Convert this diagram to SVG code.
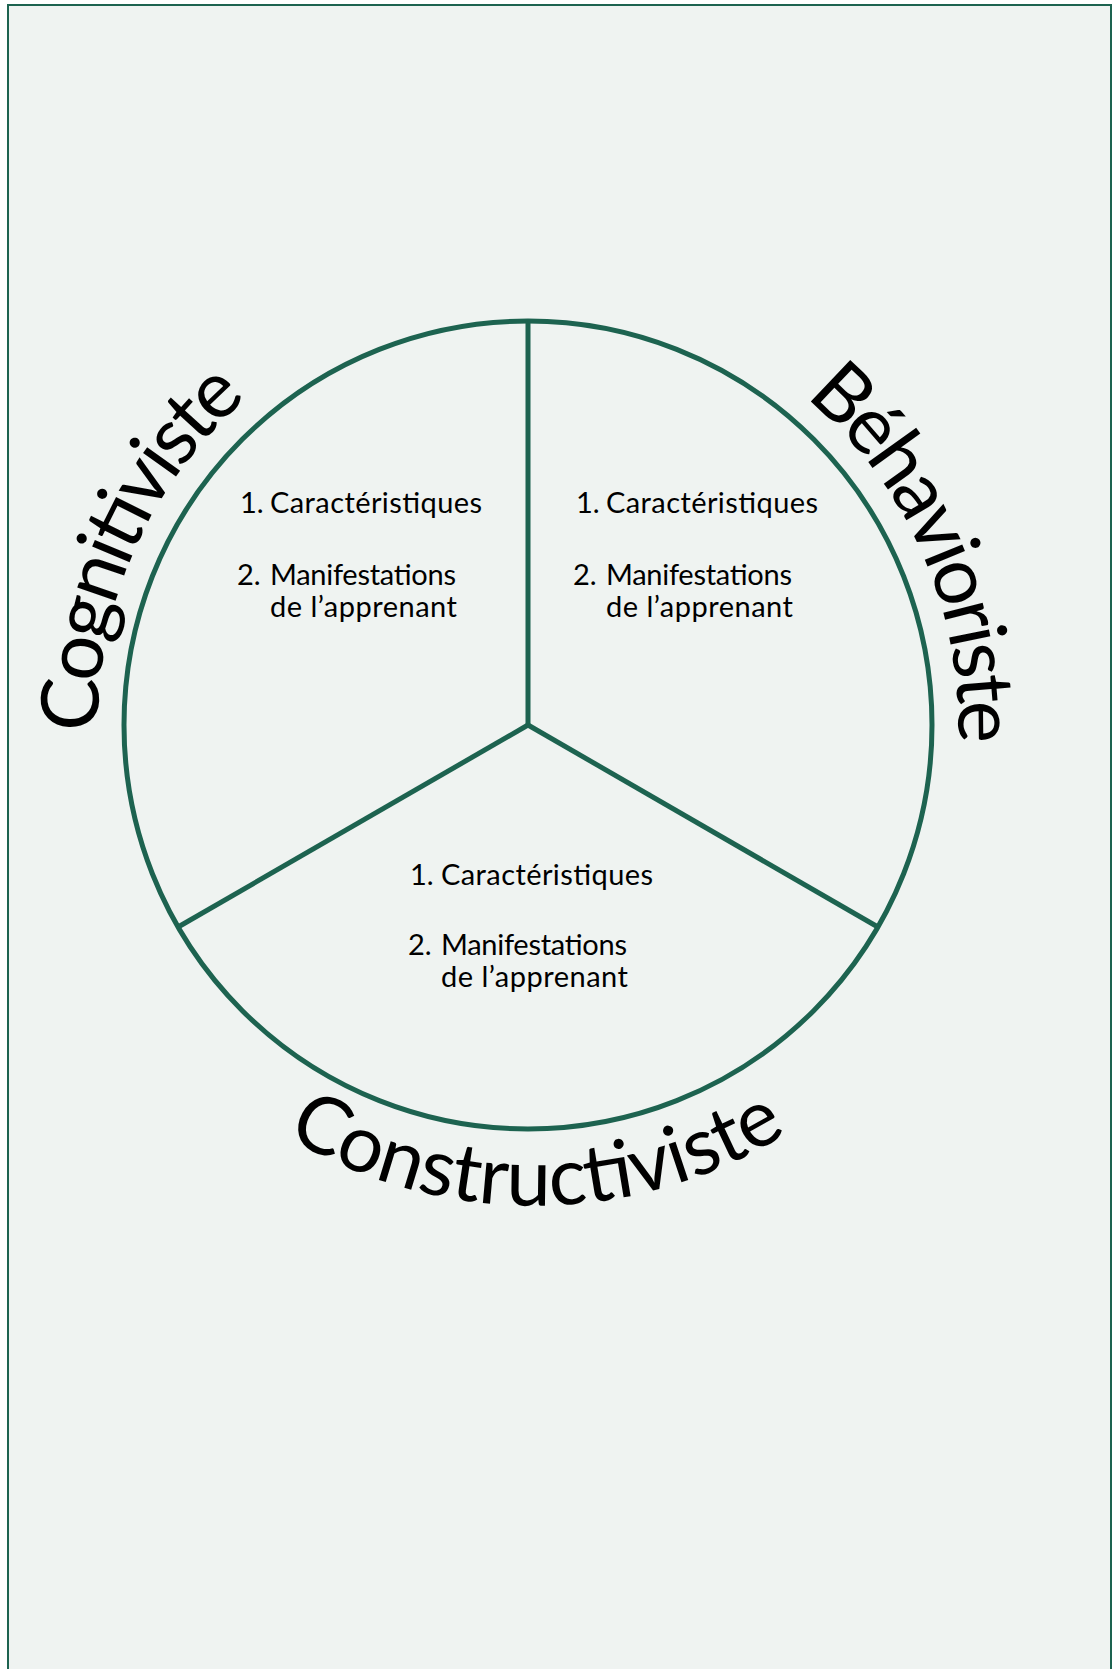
<svg xmlns="http://www.w3.org/2000/svg" width="1114" height="1669" viewBox="0 0 1114 1669">
<style>
.frame{fill:#eff3f1;stroke:#1d6350;stroke-width:2}
.ring{fill:none;stroke:#1d6350;stroke-width:5}
.body{font-family:Lato,"Open Sans",sans-serif;font-size:29px;fill:#000}
.title{font-family:Lato,"Open Sans",sans-serif;font-size:80px;fill:#000}
</style>
<defs>
<path id="pCog" d="M 98 732 A 430 430 0 0 1 245 400"/>
<path id="pBeh" d="M 805 397 A 430 430 0 0 1 958 745"/>
<path id="pCon" d="M 286 1136 A 478 478 0 0 0 800 1125"/>
</defs>
<rect class="frame" x="8" y="5" width="1103" height="1700"/>
<g id="connectors">
<circle class="ring" cx="528" cy="725" r="404"/>
<line class="ring" x1="528" y1="321" x2="528" y2="725"/>
<line class="ring" x1="528" y1="725" x2="178.1" y2="927"/>
<line class="ring" x1="528" y1="725" x2="877.9" y2="927"/>
</g>
<g id="cognitiviste">
<text class="title"><textPath href="#pCog" textLength="378" lengthAdjust="spacing">Cognitiviste</textPath></text>
<text class="body" x="240" y="513">1.<tspan x="270" textLength="212" lengthAdjust="spacing">Caractéristiques</tspan></text>
<text class="body" x="237" y="585">2.<tspan x="270" textLength="186" lengthAdjust="spacing">Manifestations</tspan><tspan x="270" y="617" textLength="187" lengthAdjust="spacing">de l’apprenant</tspan></text>
</g>
<g id="behavioriste">
<text class="title"><textPath href="#pBeh" textLength="392" lengthAdjust="spacing">Béhavioriste</textPath></text>
<text class="body" x="576" y="513">1.<tspan x="606" textLength="212" lengthAdjust="spacing">Caractéristiques</tspan></text>
<text class="body" x="573" y="585">2.<tspan x="606" textLength="186" lengthAdjust="spacing">Manifestations</tspan><tspan x="606" y="617" textLength="187" lengthAdjust="spacing">de l’apprenant</tspan></text>
</g>
<g id="constructiviste">
<text class="title"><textPath href="#pCon" textLength="528" lengthAdjust="spacing">Constructiviste</textPath></text>
<text class="body" x="410" y="885">1.<tspan x="441" textLength="212" lengthAdjust="spacing">Caractéristiques</tspan></text>
<text class="body" x="408" y="955">2.<tspan x="441" textLength="186" lengthAdjust="spacing">Manifestations</tspan><tspan x="441" y="987" textLength="187" lengthAdjust="spacing">de l’apprenant</tspan></text>
</g>
</svg>
